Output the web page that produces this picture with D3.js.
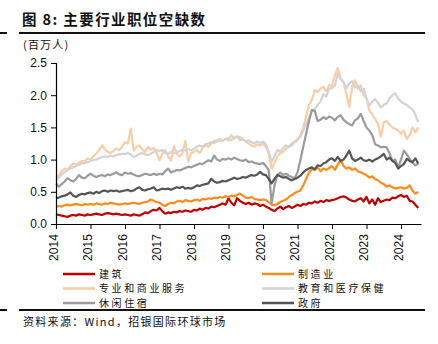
<!DOCTYPE html>
<html><head><meta charset="utf-8">
<script src="https://cdn.jsdelivr.net/npm/d3@7"></script>
<style>body{margin:0;background:#fff;}svg{display:block;}</style>
</head><body>
<svg id="c" width="438" height="344"></svg>
<script>
const yearTicks = ["2014","2015","2016","2017","2018","2019","2020","2021","2022","2023","2024"];
const yTicks = [0.0,0.5,1.0,1.5,2.0,2.5];
const seriesNames = ["建筑","制造业","专业和商业服务","教育和医疗保健","休闲住宿","政府"];
const construction = [
0.15,0.14,0.13,0.12,0.11,0.13,0.14,0.13,0.15,0.14,0.13,0.15,
0.14,0.15,0.16,0.15,0.14,0.16,0.17,0.16,0.15,0.16,0.15,0.14,
0.15,0.14,0.13,0.15,0.14,0.13,0.15,0.18,0.17,0.20,0.22,0.21,
0.25,0.20,0.16,0.18,0.17,0.19,0.18,0.20,0.19,0.21,0.20,0.19,
0.22,0.21,0.24,0.22,0.25,0.24,0.27,0.26,0.28,0.30,0.32,0.30,
0.40,0.33,0.29,0.40,0.36,0.33,0.31,0.33,0.30,0.32,0.31,0.28,
0.30,0.27,0.25,0.22,0.20,0.24,0.27,0.23,0.26,0.28,0.25,0.27,
0.30,0.28,0.31,0.30,0.33,0.32,0.35,0.33,0.36,0.34,0.37,0.36,
0.37,0.38,0.40,0.42,0.43,0.41,0.38,0.36,0.35,0.38,0.40,0.35,
0.42,0.32,0.38,0.30,0.40,0.34,0.36,0.38,0.37,0.41,0.40,0.43,
0.45,0.42,0.44,0.36,0.35,0.30,0.25];
const manufacturing = [
0.27,0.28,0.27,0.29,0.30,0.29,0.30,0.31,0.30,0.29,0.31,0.30,
0.31,0.30,0.32,0.31,0.30,0.32,0.31,0.33,0.32,0.31,0.30,0.31,
0.32,0.31,0.32,0.33,0.32,0.31,0.33,0.34,0.35,0.38,0.36,0.34,
0.33,0.30,0.28,0.31,0.33,0.32,0.35,0.36,0.34,0.37,0.36,0.35,
0.37,0.38,0.36,0.39,0.38,0.40,0.39,0.41,0.40,0.42,0.41,0.43,
0.42,0.44,0.43,0.45,0.47,0.44,0.41,0.40,0.42,0.39,0.38,0.37,
0.38,0.37,0.34,0.30,0.29,0.31,0.34,0.36,0.38,0.42,0.45,0.48,
0.50,0.52,0.60,0.70,0.80,0.85,0.84,0.88,0.82,0.86,0.84,0.87,
0.90,0.84,0.92,1.00,0.90,0.86,0.88,0.84,0.86,0.82,0.80,0.78,
0.76,0.72,0.74,0.70,0.68,0.64,0.62,0.58,0.60,0.57,0.55,0.56,
0.57,0.55,0.56,0.60,0.52,0.47,0.50];
const professional = [
0.73,0.76,0.82,0.86,0.84,0.90,0.94,0.92,0.95,0.98,0.97,1.02,
1.00,1.05,1.09,1.15,1.22,1.16,1.12,1.10,1.14,1.17,1.15,1.20,
1.27,1.25,1.48,1.14,1.20,1.22,1.16,1.12,1.20,1.15,1.18,1.10,
0.99,1.10,1.15,1.05,0.98,1.20,1.10,1.05,1.10,1.29,0.97,1.10,
1.12,1.15,1.10,1.18,1.22,1.20,1.25,1.29,1.30,1.32,1.30,1.32,
1.30,1.38,1.33,1.36,1.35,1.32,1.28,1.25,1.22,1.20,1.24,1.22,
1.25,1.20,1.09,0.86,0.95,1.05,1.10,1.12,1.17,1.20,1.22,1.27,
1.30,1.38,1.50,1.67,1.85,1.93,2.08,2.05,2.10,2.13,2.06,2.16,
2.14,2.30,2.42,2.26,2.20,2.02,1.82,2.13,2.23,2.10,2.15,2.00,
1.95,1.76,1.70,1.63,1.55,1.36,1.58,1.60,1.55,1.50,1.48,1.45,
1.40,1.45,1.32,1.38,1.50,1.42,1.50];
const eduHealth = [
0.68,0.72,0.78,0.80,0.84,0.86,0.88,0.90,0.92,0.94,0.95,0.96,
0.98,0.99,1.00,1.02,1.04,1.05,1.04,1.06,1.05,1.07,1.08,1.09,
1.09,1.10,1.08,1.04,1.06,1.09,1.10,1.08,1.07,1.09,1.12,1.15,
1.13,1.15,1.10,1.09,1.12,1.10,1.12,1.13,1.15,1.14,1.16,1.15,
1.17,1.20,1.22,1.20,1.24,1.25,1.27,1.26,1.28,1.30,1.29,1.32,
1.33,1.30,1.34,1.36,1.30,1.31,1.28,1.30,1.27,1.25,1.28,1.26,
1.28,1.24,1.12,0.97,1.05,1.15,1.12,1.18,1.22,1.20,1.25,1.28,
1.32,1.35,1.45,1.55,1.65,1.76,1.78,1.85,1.90,2.02,1.98,2.10,
2.11,2.15,2.33,2.25,2.20,2.11,2.18,2.22,2.12,2.15,2.06,2.10,
1.95,1.84,1.90,1.94,1.88,1.81,1.85,1.87,1.95,2.00,2.03,1.95,
1.90,1.87,1.85,1.81,1.78,1.70,1.58];
const leisure = [
0.63,0.58,0.62,0.66,0.71,0.68,0.66,0.70,0.76,0.72,0.71,0.75,
0.78,0.75,0.73,0.75,0.76,0.74,0.77,0.76,0.78,0.80,0.77,0.76,
0.80,0.78,0.79,0.77,0.75,0.74,0.76,0.78,0.77,0.76,0.78,0.76,
0.78,0.77,0.82,0.86,0.80,0.82,0.84,0.83,0.85,0.87,0.89,0.88,
0.90,0.92,0.94,0.93,0.96,0.99,0.97,1.06,1.00,0.98,1.01,1.00,
1.02,1.00,1.03,1.01,0.99,0.98,1.00,0.96,0.97,0.95,0.94,0.93,
0.95,0.90,0.84,0.32,0.60,0.76,0.80,0.76,0.78,0.75,0.73,0.71,
0.80,0.99,1.20,1.40,1.60,1.77,1.76,1.60,1.62,1.66,1.63,1.67,
1.65,1.61,1.66,1.69,1.62,1.58,1.55,1.53,1.61,1.64,1.71,1.60,
1.50,1.45,1.38,1.24,1.22,1.19,1.20,1.19,1.10,0.98,1.00,0.88,
1.00,1.14,1.08,1.01,0.96,0.91,0.94];
const government = [
0.40,0.41,0.43,0.44,0.46,0.49,0.44,0.42,0.45,0.47,0.46,0.48,
0.49,0.47,0.50,0.48,0.51,0.52,0.50,0.52,0.51,0.52,0.50,0.51,
0.52,0.53,0.51,0.52,0.55,0.57,0.53,0.52,0.54,0.55,0.57,0.52,
0.53,0.55,0.54,0.55,0.53,0.55,0.57,0.56,0.58,0.55,0.56,0.55,
0.57,0.60,0.59,0.61,0.62,0.63,0.70,0.66,0.64,0.65,0.67,0.66,
0.68,0.70,0.72,0.70,0.71,0.73,0.72,0.74,0.76,0.75,0.77,0.81,
0.77,0.76,0.70,0.63,0.70,0.76,0.74,0.72,0.73,0.70,0.68,0.70,
0.72,0.75,0.80,0.84,0.86,0.88,0.85,0.91,0.90,0.94,0.96,1.00,
1.02,0.98,1.04,0.98,1.00,1.06,1.14,1.02,0.98,1.00,1.03,0.99,
0.98,1.00,0.97,1.00,1.02,1.05,1.09,1.00,1.03,0.98,0.95,0.86,
0.90,0.93,1.01,0.98,0.96,1.02,0.94];

const colors = ["#C00000","#FF8C1A","#FBCDA6","#D3D3D3","#9B9B9B","#555555"];
const allSeries = [construction, manufacturing, professional, eduHealth, leisure, government];

const svg = d3.select("#c");
const cjk = "'Noto Sans CJK SC', sans-serif";
const latin = "'Liberation Sans', Arial, sans-serif";

// Title & rules
svg.append("text").attr("x",22).attr("y",25).attr("font-family",cjk).attr("font-weight","bold")
  .attr("font-size",14.5).attr("letter-spacing",1.4).attr("fill","#111").text("图 8: 主要行业职位空缺数");
svg.append("line").attr("x1",19).attr("x2",425).attr("y1",33).attr("y2",33).attr("stroke","#111").attr("stroke-width",2);
svg.append("line").attr("x1",0).attr("x2",7).attr("y1",33).attr("y2",33).attr("stroke","#111").attr("stroke-width",2);
svg.append("line").attr("x1",19).attr("x2",425).attr("y1",310).attr("y2",310).attr("stroke","#111").attr("stroke-width",2);
svg.append("line").attr("x1",0).attr("x2",7).attr("y1",310).attr("y2",310).attr("stroke","#111").attr("stroke-width",2);
svg.append("text").attr("x",23).attr("y",49).attr("font-family",cjk).attr("font-size",11).attr("letter-spacing",1.2).attr("fill","#111").text("(百万人)");
svg.append("text").attr("x",23).attr("y",326).attr("font-family",cjk).attr("font-size",11).attr("letter-spacing",1.3).attr("fill","#111").text("资料来源：Wind，招银国际环球市场");

const x0 = 56, x1 = 421, yTop = 63, yBot = 224;
const x = d3.scaleLinear().domain([2014, 2024.58]).range([x0, x1]);
const y = d3.scaleLinear().domain([0, 2.5]).range([yBot, yTop]);

const dates = construction.map((_, i) => 2014 + i / 12);

const line = d3.line().x((d, i) => x(dates[i])).y(d => y(d));
allSeries.forEach((s, k) => {
  svg.append("path").datum(s).attr("d", line).attr("fill","none")
    .attr("stroke", colors[k]).attr("stroke-width", 2.2).attr("stroke-linejoin","round");
});

// y axis
const ya = svg.append("g").attr("transform",`translate(${x0},0)`)
  .call(d3.axisLeft(y).tickValues(yTicks).tickFormat(d3.format(".1f")).tickSize(5).tickPadding(4));
ya.select(".domain").attr("stroke","#000").attr("stroke-width",1.2);
ya.selectAll("text").attr("font-family",latin).attr("font-size",12).attr("fill","#111");

// x axis
const xa = svg.append("g").attr("transform",`translate(0,${yBot})`)
  .call(d3.axisBottom(x).tickValues(yearTicks.map(Number)).tickFormat(d => String(d)).tickSize(5).tickSizeOuter(0));
xa.select(".domain").attr("stroke","#000").attr("stroke-width",1.2);
xa.selectAll("text").attr("font-family",latin).attr("font-size",12).attr("fill","#111")
  .attr("transform","rotate(-90)").attr("text-anchor","end").attr("dx","-0.6em").attr("dy","-0.15em").attr("y",0).attr("x",-3)
  .attr("dominant-baseline","middle");

// legend
const legX = [63, 262], legY = [274, 288.5, 303];
seriesNames.forEach((n, i) => {
  const lx = legX[i % 2], ly = legY[Math.floor(i / 2)];
  svg.append("line").attr("x1",lx).attr("x2",lx+32).attr("y1",ly).attr("y2",ly).attr("stroke",colors[i]).attr("stroke-width",2.5);
  svg.append("text").attr("x",lx+36).attr("y",ly+3.5).attr("font-family",cjk).attr("font-size",10).attr("letter-spacing",2.6).attr("fill","#111").text(n);
});
</script>
</body></html>
